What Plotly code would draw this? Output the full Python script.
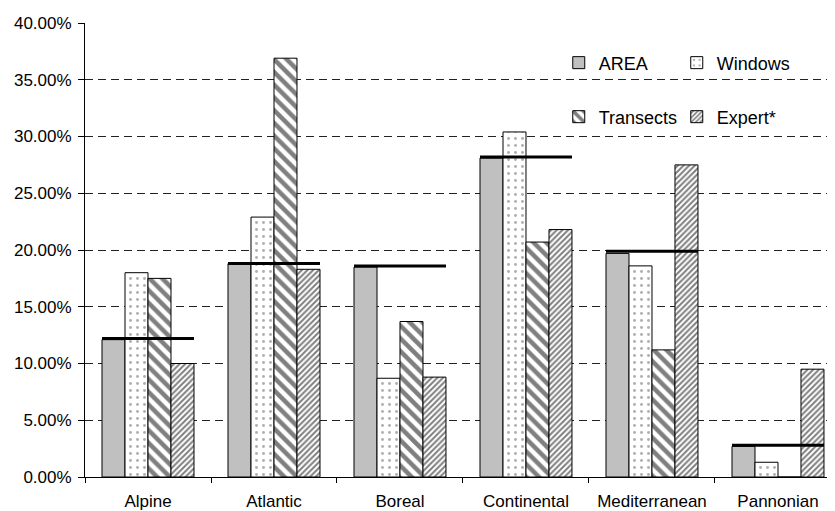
import plotly.graph_objects as go

regions = ["Alpine", "Atlantic", "Boreal", "Continental", "Mediterranean", "Pannonian"]
area = [12.1, 18.8, 18.5, 28.1, 19.7, 2.7]
windows = [18.0, 22.9, 8.7, 30.4, 18.6, 1.3]
transects = [17.5, 36.9, 13.7, 20.7, 11.2, 0.0]
expert = [10.0, 18.3, 8.8, 21.8, 27.5, 9.5]
reference = [12.2, 18.8, 18.6, 28.2, 19.9, 2.8]
y_ticks = [0, 5, 10, 15, 20, 25, 30, 35, 40]
y_tick_text = ["%.2f%%" % v for v in y_ticks]

FONT = "Liberation Sans, Arial, sans-serif"
GROUP = 0.73

fig = go.Figure()
fig.add_trace(go.Bar(name="AREA", x=regions, y=area,
                     marker=dict(color="#c0c0c0", line=dict(color="black", width=1)),
                     legend="legend"))
fig.add_trace(go.Bar(name="Windows", x=regions, y=windows,
                     marker=dict(color="white", line=dict(color="black", width=1),
                                 pattern=dict(shape=".", fgcolor="#606060", bgcolor="white",
                                              size=7, solidity=0.14)),
                     legend="legend"))
fig.add_trace(go.Bar(name="Transects", x=regions, y=transects,
                     marker=dict(color="white", line=dict(color="black", width=1),
                                 pattern=dict(shape="\\", fgcolor="black", bgcolor="white",
                                              size=9, solidity=0.5)),
                     legend="legend2"))
fig.add_trace(go.Bar(name="Expert*", x=regions, y=expert,
                     marker=dict(color="white", line=dict(color="black", width=1),
                                 pattern=dict(shape="/", fgcolor="black", bgcolor="white",
                                              size=4, solidity=0.5)),
                     legend="legend2"))

# reference level lines spanning each group
lx, ly = [], []
for i, v in enumerate(reference):
    lx += [i - GROUP / 2, i + GROUP / 2, None]
    ly += [v, v, None]
fig.add_trace(go.Scatter(x=lx, y=ly, mode="lines", xaxis="x2",
                         line=dict(color="black", width=3), showlegend=False,
                         hoverinfo="skip"))

xr = [-0.5, 5.516]
fig.update_layout(
    width=835, height=511,
    margin=dict(l=77, r=0, t=15, b=42, autoexpand=False),
    paper_bgcolor="white", plot_bgcolor="white",
    barmode="group", bargap=1 - GROUP, bargroupgap=0,
    font=dict(family=FONT, size=17, color="black"),
    xaxis=dict(type="category", range=xr, tickson="boundaries",
               ticks="outside", ticklen=5, tickcolor="black",
               showline=True, linecolor="black", linewidth=1,
               showgrid=False, tickfont=dict(size=17), ticklabelstandoff=9),
    xaxis2=dict(overlaying="x", range=xr, visible=False),
    yaxis=dict(range=[0, 40], tickvals=y_ticks, ticktext=y_tick_text,
               ticks="outside", ticklen=6, tickcolor="black",
               showline=True, linecolor="black", linewidth=1,
               showgrid=True, gridcolor="#222222", gridwidth=1, griddash="8px,5px",
               zeroline=False, tickfont=dict(size=17), ticklabelstandoff=3),
    legend=dict(orientation="h", x=0.625, xanchor="left", y=0.912, yanchor="middle",
                entrywidth=73, bgcolor="rgba(0,0,0,0)", font=dict(size=18),
                itemwidth=30),
    legend2=dict(orientation="h", x=0.625, xanchor="left", y=0.793, yanchor="middle",
                 entrywidth=73, bgcolor="rgba(0,0,0,0)", font=dict(size=18),
                 itemwidth=30),
    shapes=[dict(type="rect", xref="paper", yref="paper", x0=0.631, x1=0.952,
                 y0=0.742, y1=0.963, fillcolor="white", line=dict(width=0),
                 layer="between")],
)
fig.write_html("out.html")
